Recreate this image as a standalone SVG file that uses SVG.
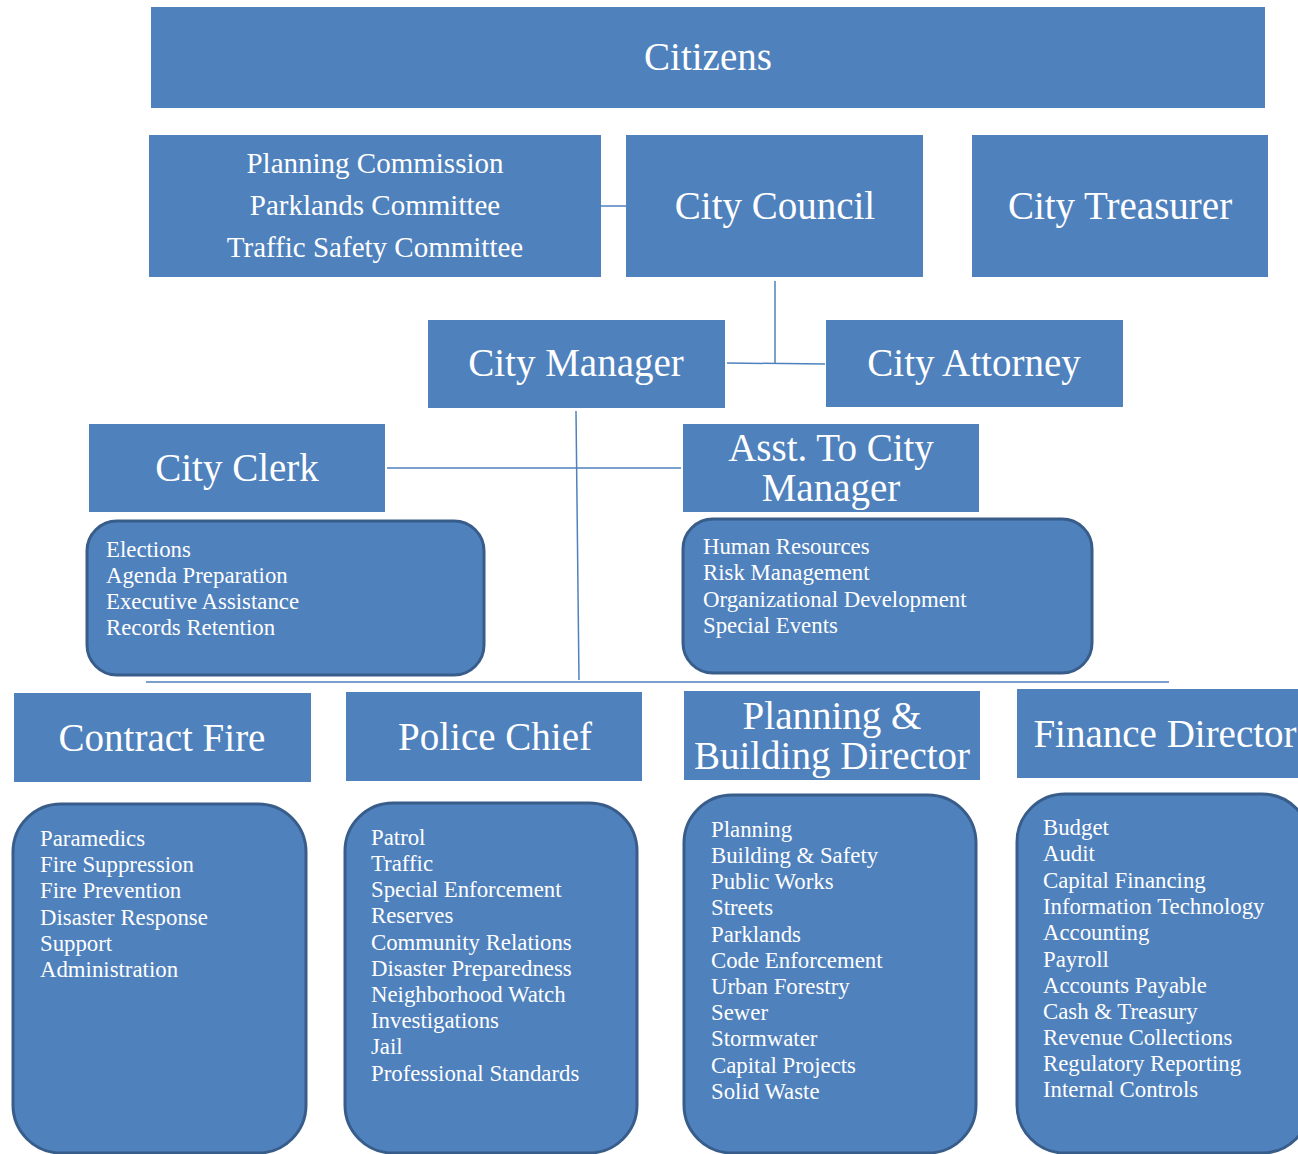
<svg xmlns="http://www.w3.org/2000/svg" width="1298" height="1154" viewBox="0 0 1298 1154">
<style>
.box{fill:#4F81BD;}
.rbox{fill:#4F81BD;stroke:#385D8A;stroke-width:3;}
.h{font-family:"Liberation Serif","Times New Roman",serif;fill:#fff;font-size:39px;text-anchor:middle;}
.m{font-family:"Liberation Serif","Times New Roman",serif;fill:#fff;font-size:29px;text-anchor:middle;}
.l{font-family:"Liberation Serif","Times New Roman",serif;fill:#fff;font-size:22.8px;}
.c{stroke:#4F81BD;stroke-width:1.5;fill:none;}
</style>
<rect width="1298" height="1154" fill="#fff"/>
<g id="connectors">
<line class="c" x1="601" y1="206" x2="626" y2="206"/>
<line class="c" x1="775" y1="281" x2="775" y2="363"/>
<line class="c" x1="727" y1="363" x2="825" y2="364"/>
<line class="c" x1="387" y1="468" x2="681" y2="468"/>
<line class="c" x1="576" y1="411" x2="579" y2="680"/>
<line class="c" x1="146" y1="682" x2="1169" y2="682"/>
</g>
<g id="citizens"><rect class="box" x="151" y="7" width="1114" height="101"/><text class="h" x="708" y="70">Citizens</text></g>
<g id="commissions"><rect class="box" x="149" y="135" width="452" height="142"/>
<text class="m" x="375" y="173">Planning Commission</text>
<text class="m" x="375" y="215">Parklands Committee</text>
<text class="m" x="375" y="257">Traffic Safety Committee</text></g>
<g id="city-council"><rect class="box" x="626" y="135" width="297" height="142"/><text class="h" x="775" y="219">City Council</text></g>
<g id="city-treasurer"><rect class="box" x="972" y="135" width="296" height="142"/><text class="h" x="1120" y="219">City Treasurer</text></g>
<g id="city-manager"><rect class="box" x="428" y="320" width="297" height="88"/><text class="h" x="576" y="376">City Manager</text></g>
<g id="city-attorney"><rect class="box" x="826" y="320" width="297" height="87"/><text class="h" x="974" y="376">City Attorney</text></g>
<g id="city-clerk"><rect class="box" x="89" y="424" width="296" height="88"/><text class="h" x="237" y="481">City Clerk</text></g>
<g id="asst-city-manager"><rect class="box" x="683" y="424" width="296" height="88"/><text class="h" x="831" y="461">Asst. To City</text><text class="h" x="831" y="501">Manager</text></g>
<g id="clerk-duties"><rect class="rbox" x="87" y="521" width="397" height="154" rx="30"/>
<text class="l" x="106" y="557">Elections</text>
<text class="l" x="106" y="583">Agenda Preparation</text>
<text class="l" x="106" y="609">Executive Assistance</text>
<text class="l" x="106" y="635">Records Retention</text></g>
<g id="asst-duties"><rect class="rbox" x="683" y="519" width="409" height="154" rx="30"/>
<text class="l" x="703" y="554">Human Resources</text>
<text class="l" x="703" y="580">Risk Management</text>
<text class="l" x="703" y="607">Organizational Development</text>
<text class="l" x="703" y="633">Special Events</text></g>
<g id="contract-fire"><rect class="box" x="14" y="693" width="297" height="89"/><text class="h" x="162" y="751">Contract Fire</text></g>
<g id="police-chief"><rect class="box" x="346" y="692" width="296" height="89"/><text class="h" x="495" y="750">Police Chief</text></g>
<g id="planning-director"><rect class="box" x="684" y="691" width="296" height="89"/><text class="h" x="832" y="729">Planning &amp;</text><text class="h" x="832" y="769">Building Director</text></g>
<g id="finance-director"><rect class="box" x="1017" y="689" width="296" height="89"/><text class="h" x="1165" y="747">Finance Director</text></g>
<g id="fire-duties"><rect class="rbox" x="13" y="804" width="293" height="349" rx="48"/>
<text class="l" x="40" y="846">Paramedics</text>
<text class="l" x="40" y="872">Fire Suppression</text>
<text class="l" x="40" y="898">Fire Prevention</text>
<text class="l" x="40" y="925">Disaster Response</text>
<text class="l" x="40" y="951">Support</text>
<text class="l" x="40" y="977">Administration</text></g>
<g id="police-duties"><rect class="rbox" x="345" y="803" width="292" height="350" rx="48"/>
<text class="l" x="371" y="845">Patrol</text>
<text class="l" x="371" y="871">Traffic</text>
<text class="l" x="371" y="897">Special Enforcement</text>
<text class="l" x="371" y="923">Reserves</text>
<text class="l" x="371" y="950">Community Relations</text>
<text class="l" x="371" y="976">Disaster Preparedness</text>
<text class="l" x="371" y="1002">Neighborhood Watch</text>
<text class="l" x="371" y="1028">Investigations</text>
<text class="l" x="371" y="1054">Jail</text>
<text class="l" x="371" y="1081">Professional Standards</text></g>
<g id="planning-duties"><rect class="rbox" x="684" y="795" width="292" height="358" rx="48"/>
<text class="l" x="711" y="837">Planning</text>
<text class="l" x="711" y="863">Building &amp; Safety</text>
<text class="l" x="711" y="889">Public Works</text>
<text class="l" x="711" y="915">Streets</text>
<text class="l" x="711" y="942">Parklands</text>
<text class="l" x="711" y="968">Code Enforcement</text>
<text class="l" x="711" y="994">Urban Forestry</text>
<text class="l" x="711" y="1020">Sewer</text>
<text class="l" x="711" y="1046">Stormwater</text>
<text class="l" x="711" y="1073">Capital Projects</text>
<text class="l" x="711" y="1099">Solid Waste</text></g>
<g id="finance-duties"><rect class="rbox" x="1017" y="794" width="293" height="359" rx="48"/>
<text class="l" x="1043" y="835">Budget</text>
<text class="l" x="1043" y="861">Audit</text>
<text class="l" x="1043" y="888">Capital Financing</text>
<text class="l" x="1043" y="914">Information Technology</text>
<text class="l" x="1043" y="940">Accounting</text>
<text class="l" x="1043" y="967">Payroll</text>
<text class="l" x="1043" y="993">Accounts Payable</text>
<text class="l" x="1043" y="1019">Cash &amp; Treasury</text>
<text class="l" x="1043" y="1045">Revenue Collections</text>
<text class="l" x="1043" y="1071">Regulatory Reporting</text>
<text class="l" x="1043" y="1097">Internal Controls</text></g>
</svg>
